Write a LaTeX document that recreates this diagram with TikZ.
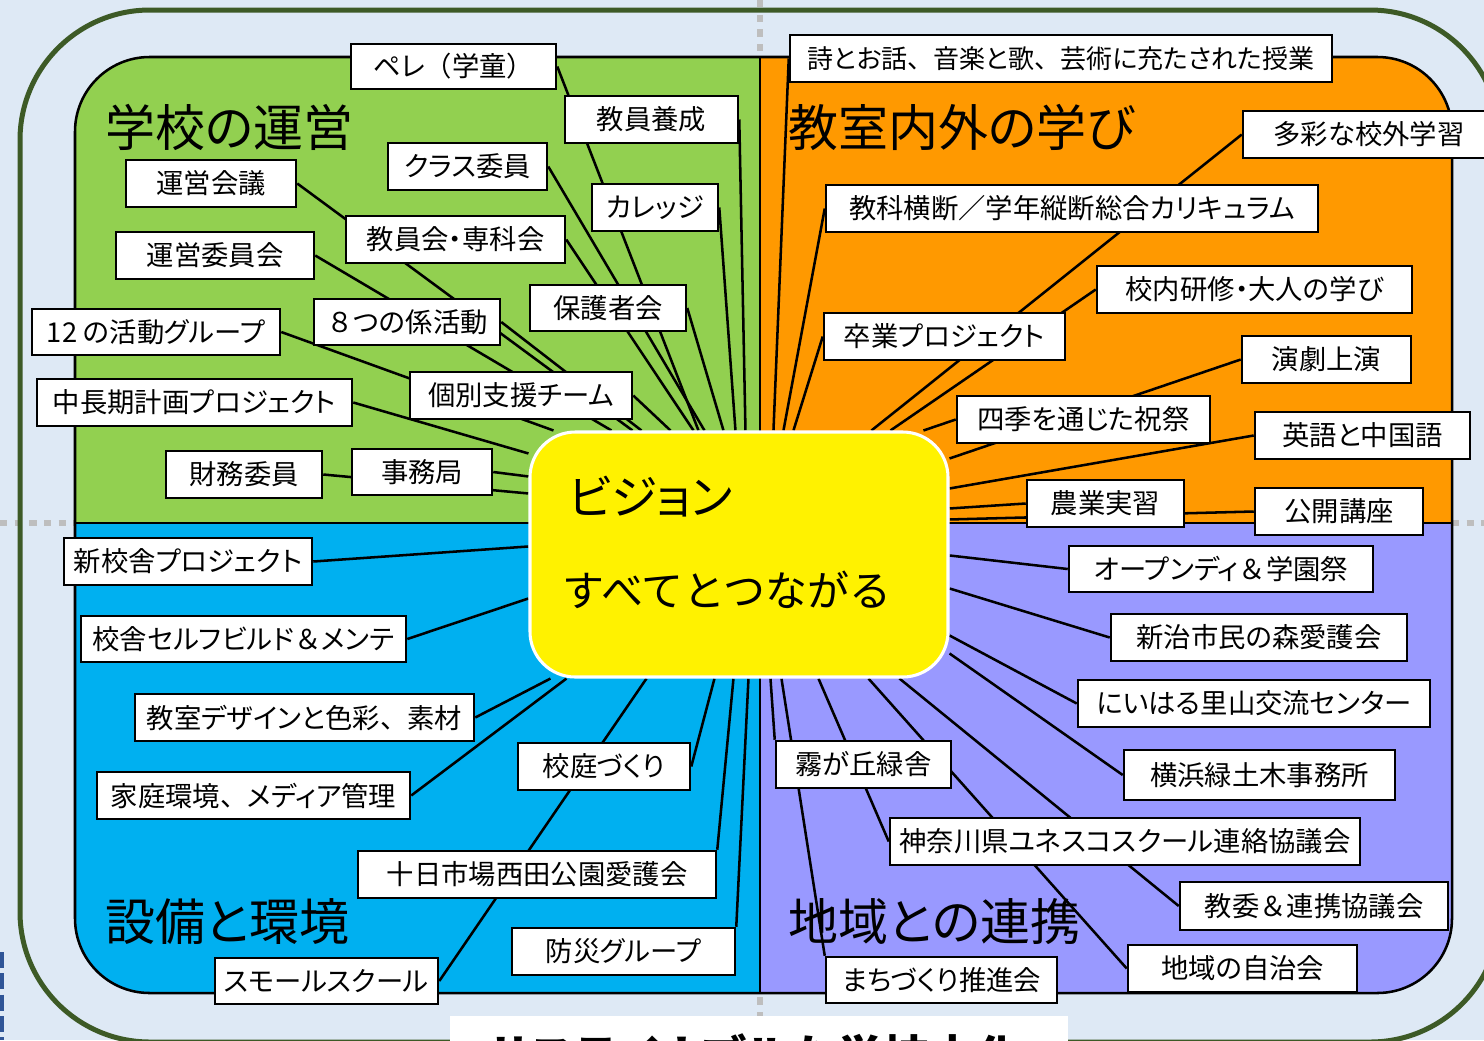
\documentclass[tikz,border=0pt]{standalone}
\usepackage{fontspec}
\setmainfont[RawFeature=+palt]{Noto Sans CJK JP}
\newfontfamily\widefont{Noto Sans CJK JP}
\newcommand{\fw}[1]{{\widefont #1}}
\usetikzlibrary{calc}
\definecolor{bgblue}{RGB}{222,233,245}
\definecolor{frameg}{RGB}{61,90,38}
\definecolor{qgreen}{RGB}{146,208,80}
\definecolor{qorange}{RGB}{255,153,0}
\definecolor{qblue}{RGB}{0,176,240}
\definecolor{qpurple}{RGB}{153,153,255}
\definecolor{dotgray}{RGB}{190,190,190}
\definecolor{edgeblue}{RGB}{47,85,151}
\pgfdeclarelayer{back}
\pgfdeclarelayer{lines}
\pgfsetlayers{back,lines,main}
\tikzset{
  lbl/.style={draw=black, line width=1.9pt, fill=white, inner sep=0pt, font=\fontsize{20.5pt}{22pt}\selectfont},
  conn/.style={line width=1.9pt, black},
  ttl/.style={anchor=west, inner sep=0pt, font=\fontsize{37.5pt}{40pt}\selectfont},
  quadline/.style={line width=1.9pt, black},
  dotline/.style={dotgray, line width=4.5pt, dash pattern=on 5.5pt off 5.5pt}
}
\newcommand{\lbox}[6]{\node[lbl,minimum width={(#4-#2)*0.75pt},minimum height={(#5-#3)*0.75pt}] (#1) at ({(#2+#4)/2},{(#3+#5)/2}) {#6};}
\newcommand{\cT}[2]{\draw[conn] (#1) -- ([xshift={(#2-530)*0.75pt}]vision.north west);}
\newcommand{\cB}[2]{\draw[conn] (#1) -- ([xshift={(#2-530)*0.75pt}]vision.south west);}
\newcommand{\cL}[2]{\draw[conn] (#1) -- ([yshift={-(#2-432)*0.75pt}]vision.north west);}
\newcommand{\cR}[2]{\draw[conn] (#1) -- ([yshift={-(#2-432)*0.75pt}]vision.north east);}
\begin{document}
\begin{tikzpicture}[x=0.75pt,y=-0.75pt]
\useasboundingbox (0,0) rectangle (1484,1040);
\begin{pgfonlayer}{back}
\fill[bgblue] (0,0) rectangle (1484,1040);
\draw[dotline] (760,0) -- (760,1040);
\draw[dotline] (0,523) -- (1484,523);
\draw[frameg, line width=3.75pt, rounded corners=97.5pt] (20,10) rectangle (1500,1042);
\draw[edgeblue, line width=3pt, dash pattern=on 12pt off 4pt] (1.5,952) -- (1.5,1040);
\begin{scope}
\clip[rounded corners=56pt] (75,57) rectangle (1452,993);
\fill[qgreen] (75,57) rectangle (760,523);
\fill[qorange] (760,57) rectangle (1452,523);
\fill[qblue] (75,523) rectangle (760,993);
\fill[qpurple] (760,523) rectangle (1452,993);
\end{scope}
\draw[quadline, rounded corners=56pt] (75,57) rectangle (1452,993);
\draw[quadline] (760,57) -- (760,993);
\draw[quadline] (75,523) -- (1452,523);
\end{pgfonlayer}

% titles
\node[ttl] (t1) at (105,127) {学校の運営};
\node[ttl] (t2) at (788,127) {教室内外の学び};
\node[ttl] (t3) at (105,922) {設備と環境};
\node[ttl] (t4) at (788,922) {地域との連携};

% bottom banner (cut off by the page edge, as in the reference)
\node[fill=white, inner sep=0pt, minimum width={618*0.75pt}, minimum height={90*0.75pt}, anchor=north west] (banner) at (450,1016) {};
\node[anchor=north, inner sep=0pt, font=\fontsize{35pt}{38pt}\selectfont\bfseries] (bannertext) at (755,1033) {サステイナブルな学校文化};

% vision
\node[draw=white, line width=2.3pt, fill=yellow, rounded corners=34pt, minimum width={418*0.75pt}, minimum height={245*0.75pt}, inner sep=0pt] (vision) at (739,554.5) {};
\node[anchor=west, inner sep=0pt, font=\fontsize{35pt}{37pt}\selectfont] (vtitle) at (568,497) {ビジョン};
\node[anchor=west, inner sep=0pt, font=\widefont\fontsize{31.5pt}{33pt}\selectfont] (vsub) at (562,590) {すべてとつながる};

% green
\lbox{pere}{351}{44}{556}{89}{ペレ\fw{（}学童\fw{）}}
\lbox{kyoin}{565}{96}{738}{143}{教員養成}
\lbox{classi}{388}{143}{547}{190}{クラス委員}
\lbox{uneikaigi}{126}{160}{296}{207}{運営会議}
\lbox{college}{592}{184}{718}{231}{カレッジ}
\lbox{kyoinkai}{346}{216}{565}{263}{教員会・専科会}
\lbox{uneiiin}{116}{232}{314}{279}{運営委員会}
\lbox{hogosha}{530}{285}{686}{331}{保護者会}
\lbox{hachi}{314}{299}{500}{345}{\fw{８}つの係活動}
\lbox{twelve}{32}{309}{280}{355}{12 の活動グループ}
\lbox{kobetsu}{410}{372}{632}{419}{個別支援チーム}
\lbox{chuchoki}{37}{379}{352}{426}{中長期計画プロジェクト}
\lbox{zaimu}{166}{451}{322}{498}{財務委員}
\lbox{jimu}{352}{449}{492}{495}{事務局}
% blue
\lbox{shinkosha}{64}{538}{312}{585}{新校舎プロジェクト}
\lbox{selfbuild}{81}{616}{406}{662}{校舎セルフビルド\fw{＆}メンテ}
\lbox{design}{135}{694}{474}{741}{教室デザインと色彩\fw{、}素材}
\lbox{katei}{97}{772}{410}{819}{家庭環境\fw{、}メディア管理}
\lbox{kotei}{518}{743}{690}{790}{校庭づくり}
\lbox{toka}{358}{851}{716}{898}{十日市場西田公園愛護会}
\lbox{bosai}{512}{928}{735}{975}{防災グループ}
\lbox{small}{215}{958}{438}{1004}{スモールスクール}
% orange
\lbox{uta}{790}{35}{1332}{82}{{\fontsize{19.5pt}{21pt}\selectfont 詩とお話\fw{、}音楽と歌\fw{、}芸術に充たされた授業}}
\lbox{tasai}{1243}{111}{1495}{158}{多彩な校外学習}
\lbox{kyoka}{826}{185}{1318}{232}{教科横断／学年縦断総合カリキュラム}
\lbox{konai}{1097}{266}{1412}{313}{校内研修・大人の学び}
\lbox{sotsu}{824}{313}{1065}{360}{卒業プロジェクト}
\lbox{engeki}{1242}{336}{1411}{383}{演劇上演}
\lbox{shiki}{957}{396}{1210}{443}{四季を通じた祝祭}
\lbox{eigo}{1255}{412}{1470}{459}{英語と中国語}
\lbox{nogyo}{1027}{480}{1184}{527}{農業実習}
\lbox{kokai}{1255}{488}{1423}{535}{公開講座}
% purple
\lbox{open}{1069}{546}{1373}{592}{オープンディ\fw{＆}学園祭}
\lbox{mori}{1111}{614}{1407}{661}{新治市民の森愛護会}
\lbox{satoyama}{1078}{680}{1430}{727}{にいはる里山交流センター}
\lbox{yokohama}{1124}{750}{1395}{800}{横浜緑土木事務所}
\lbox{kiri}{776}{741}{951}{788}{霧が丘緑舎}
\lbox{kanagawa}{890}{818}{1360}{865}{神奈川県ユネスコスクール連絡協議会}
\lbox{kyoi}{1180}{882}{1448}{930}{教委\fw{＆}連携協議会}
\lbox{jichi}{1128}{945}{1357}{992}{地域の自治会}
\lbox{machi}{826}{957}{1057}{1003}{まちづくり推進会}

\begin{pgfonlayer}{lines}
% green
\cT{pere.east}{700}
\cT{kyoin.east}{747}
\cT{college.east}{737}
\cT{classi.east}{706}
\cT{kyoinkai.east}{695}
\cT{hogosha.east}{725}
\cT{uneikaigi.east}{634}
\cT{uneiiin.east}{613}
\cT{hachi.east}{643}
\cT{kobetsu.east}{672}
\cT{twelve.east}{555}
\cL{chuchoki.east}{455}
\cL{jimu.east}{478}
\cL{zaimu.east}{495}
% orange
\cT{uta.west}{775}
\cT{kyoka.west}{785}
\cT{sotsu.west}{795}
\cT{tasai.west}{873}
\cT{konai.west}{892}
\cT{shiki.west}{925}
\cR{engeki.west}{460}
\cR{eigo.west}{490}
\cR{nogyo.west}{510}
\cR{kokai.west}{521}
% purple
\cR{open.west}{557}
\cR{mori.west}{590}
\cR{satoyama.west}{637}
\cR{yokohama.west}{655}
\cB{kiri.north west}{772}
\cB{kanagawa.west}{820}
\cB{kyoi.west}{901}
\cB{jichi.west}{870}
\cB{machi.north west}{783}
% blue
\cL{shinkosha.east}{548}
\cL{selfbuild.east}{600}
\cB{design.east}{552}
\cB{katei.east}{568}
\cB{small.east}{648}
\cB{kotei.east}{716}
\cB{toka.north east}{735}
\cB{bosai.north east}{750}
\end{pgfonlayer}
\end{tikzpicture}
\end{document}
